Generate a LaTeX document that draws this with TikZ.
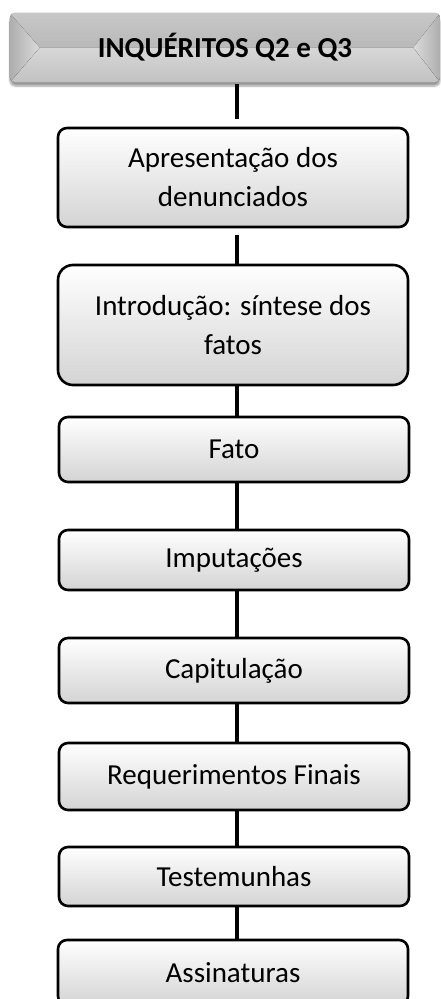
\documentclass[tikz,border=0pt]{standalone}
\usepackage{fontspec}
\setmainfont{Carlito}
\usepackage{tikz}
\usetikzlibrary{calc, shadows.blur}

\begin{document}
\begin{tikzpicture}[line cap=round,line join=round,x=1pt,y=-1pt,
  etapa/.style={draw=black, line width=2.6pt, rounded corners=9pt, top color=white, bottom color=black!17,
    minimum width=350pt, inner sep=0pt, align=center, font=\fontsize{29}{39}\selectfont},
  titulo/.style={rounded corners=5pt, top color=black!7, bottom color=black!24, minimum width=430pt,
    minimum height=69pt, inner sep=0pt, font=\bfseries\fontsize{29}{35}\selectfont,
    blur shadow={shadow xshift=0pt, shadow yshift=-4pt, shadow blur steps=6, shadow opacity=40}},
  ligacao/.style={line width=3.2pt, line cap=butt}]
\useasboundingbox (0,0) rectangle (441,999);

\node[titulo] (head) at (225,47.5) {};
\begin{scope}
\clip[rounded corners=5pt] (head.north west) rectangle (head.south east);
\fill[left color=black!32, right color=black!14] (head.north west) -- ($(head.west)+(30,0)$) -- (head.south west) -- cycle;
\fill[right color=black!32, left color=black!14] (head.north east) -- ($(head.east)+(-27,0)$) -- (head.south east) -- cycle;
\fill[top color=white, bottom color=black!7, opacity=0.7] (head.north west) -- ($(head.west)+(30,0)$) -- ($(head.east)+(-27,0)$) -- (head.north east) -- cycle;
\end{scope}
\node[font=\bfseries\fontsize{29}{35}\selectfont] (headtxt) at (head.center) {INQUÉRITOS Q2 e Q3};

\node[etapa, minimum height=99pt] (apres) at (233,177.5) {Apresentação dos\\denunciados};
\node[etapa, minimum height=120pt, rounded corners=15pt] (intro) at (233,325) {Introdução: síntese dos\\fatos};
\node[etapa, minimum height=65pt] (fato) at (234,449.5) {Fato};
\node[etapa, minimum height=60pt] (imput) at (234,560) {Imputações};
\node[etapa, minimum height=65pt] (capit) at (234,670.5) {Capitulação};
\node[etapa, minimum height=67pt] (reqf) at (234,776.5) {Requerimentos Finais};
\node[etapa, minimum height=59pt] (test) at (234,876.5) {Testemunhas};
\node[etapa, minimum height=65pt] (assin) at (233,972.5) {Assinaturas};

% conectores
\draw[ligacao] ([xshift=12pt,yshift=-2pt]head.south) -- ([xshift=4pt,yshift=8pt]apres.north);
\draw[ligacao] ([xshift=4pt,yshift=-7pt]apres.south) -- ([xshift=4pt]intro.north);
\draw[ligacao] ([xshift=4pt]intro.south) -- ([xshift=3pt]fato.north);
\draw[ligacao] ([xshift=3pt]fato.south) -- ([xshift=3pt]imput.north);
\draw[ligacao] ([xshift=3pt]imput.south) -- ([xshift=3pt]capit.north);
\draw[ligacao] ([xshift=3pt]capit.south) -- ([xshift=3pt]reqf.north);
\draw[ligacao] ([xshift=3pt]reqf.south) -- ([xshift=3pt]test.north);
\draw[ligacao] ([xshift=3pt]test.south) -- ([xshift=4pt]assin.north);

\end{tikzpicture}
\end{document}
